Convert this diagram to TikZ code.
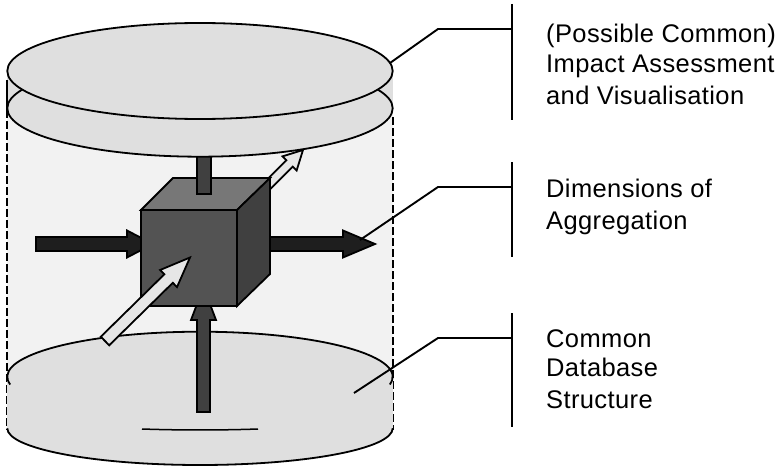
\documentclass[tikz,border=0pt]{standalone}
\usepackage{fontspec}
\setmainfont{Liberation Sans}[LetterSpace=1.5]
\usetikzlibrary{calc}
\definecolor{cylbg}{HTML}{F2F2F2}
\definecolor{disc}{HTML}{DFDFDF}
\definecolor{cubetop}{HTML}{777777}
\definecolor{cubefront}{HTML}{535353}
\definecolor{cuberight}{HTML}{404040}
\definecolor{darkarrow}{HTML}{1E1E1E}
\definecolor{midarrow}{HTML}{404040}
\definecolor{lightarrow}{HTML}{E6E6E6}
\newcommand\myblockarrow[6]{%
  \path[#6] ($(#1)!#3!90:(#2)$)
    -- ($(#2)!#5!(#1)!#3!-90:(#1)$)
    -- ($(#2)!#5!(#1)!#4!-90:(#1)$)
    -- (#2)
    -- ($(#2)!#5!(#1)!#4!90:(#1)$)
    -- ($(#2)!#5!(#1)!#3!90:(#1)$)
    -- ($(#1)!#3!-90:(#2)$) -- cycle;}
\begin{document}
\begin{tikzpicture}[x=1pt,y=-1pt,
  outline/.style={draw=black,line width=1.8pt,line join=miter},
  sideline/.style={draw=black,line width=2pt,dash pattern=on 8pt off 3pt},
  callout/.style={draw=black,line width=1.9pt},
  barrow/.style={outline,fill=#1},
  lbl/.style={anchor=base west,inner sep=0pt,font=\fontsize{25.5}{31}\selectfont}]
\useasboundingbox (0,0) rectangle (784,468);
% cylinder background
\fill[cylbg] (7.3,80) rectangle (392.7,430);
\draw[sideline] (7.3,110) -- (7.3,430);
\draw[sideline] (392.7,117) -- (392.7,430);
% bottom disc
\fill[disc] (7.3,376.7) rectangle (392.7,428.3);
\fill[disc] (200,428.3) ellipse [x radius=192.7pt, y radius=36.7pt];
\fill[disc] (200,376.7) ellipse [x radius=192.7pt, y radius=45pt];
\draw[outline] (200,428.3) ++(180:192.7pt and 36.7pt) arc[start angle=180,end angle=360,x radius=192.7pt,y radius=36.7pt];
\draw[outline] (200,376.7) ++(190:192.7pt and 45pt) arc[start angle=190,end angle=-10,x radius=192.7pt,y radius=45pt];
\draw[line width=1.5pt] (142,429) .. controls (180,430.3) and (220,430.3) .. (258,429);
% arrows behind the cube
\coordinate (la1) at (36,244);  \coordinate (la2) at (153,244);
\coordinate (ra1) at (252,244); \coordinate (ra2) at (375,244);
\coordinate (ba1) at (203.5,412); \coordinate (ba2) at (203.5,287);
\coordinate (ua1) at (260,193); \coordinate (ua2) at (303,150);
\coordinate (wa1) at (105,341); \coordinate (wa2) at (190,257.5);
\myblockarrow{la1}{la2}{7pt}{13.5pt}{26pt}{barrow=darkarrow}
\myblockarrow{ra1}{ra2}{7pt}{13.5pt}{32pt}{barrow=darkarrow}
\myblockarrow{ba1}{ba2}{6.5pt}{12.5pt}{33pt}{barrow=midarrow}
\myblockarrow{ua1}{ua2}{4.5pt}{10pt}{19pt}{barrow=lightarrow}
% cube
\filldraw[outline,fill=cubefront] (141,210) rectangle (237,306);
\filldraw[outline,fill=cubetop] (141,210) -- (173,178) -- (270,178) -- (237,210) -- cycle;
\filldraw[outline,fill=cuberight] (237,210) -- (270,178) -- (270,274) -- (237,306) -- cycle;
% stick
\filldraw[outline,fill=midarrow] (197,145) rectangle (211,194);
% top discs
\fill[disc] (7.3,71) rectangle (392.7,108.3);
\filldraw[outline,fill=disc] (200,108.3) ellipse [x radius=192.7pt, y radius=48.4pt];
\draw[outline] (7.3,80) -- (7.3,110);
\filldraw[outline,fill=disc] (200,71) ellipse [x radius=192.7pt, y radius=48pt];
% white arrow in front
\myblockarrow{wa1}{wa2}{6pt}{12pt}{30pt}{barrow=lightarrow}
% callouts
\coordinate (c1a) at (390,63);  \coordinate (c1b) at (438,29);  \coordinate (c1c) at (512,29);
\coordinate (c2a) at (360,240); \coordinate (c2b) at (438,187); \coordinate (c2c) at (512,187);
\coordinate (c3a) at (354,393); \coordinate (c3b) at (438,338); \coordinate (c3c) at (512,338);
\draw[callout] (c1a) -- (c1b) -- (c1c);
\draw[callout] (c2a) -- (c2b) -- (c2c);
\draw[callout] (c3a) -- (c3b) -- (c3c);
\coordinate (v1a) at (512,4);   \coordinate (v1b) at (512,120);
\coordinate (v2a) at (512,162); \coordinate (v2b) at (512,257);
\coordinate (v3a) at (512,313); \coordinate (v3b) at (512,427);
\draw[callout] (v1a) -- (v1b);
\draw[callout] (v2a) -- (v2b);
\draw[callout] (v3a) -- (v3b);
% labels
\node[lbl] (t1a) at (546,42.7) {(Possible Common)};
\node[lbl] (t1b) at (546,72.7) {Impact Assessment};
\node[lbl] (t1c) at (546,104.3) {and Visualisation};
\node[lbl] (t2a) at (546,197.3) {Dimensions of};
\node[lbl] (t2b) at (546,229.3) {Aggregation};
\node[lbl] (t3a) at (546,347.7) {Common};
\node[lbl] (t3b) at (546,376.7) {Database};
\node[lbl] (t3c) at (546,408.3) {Structure};
\end{tikzpicture}
\end{document}
